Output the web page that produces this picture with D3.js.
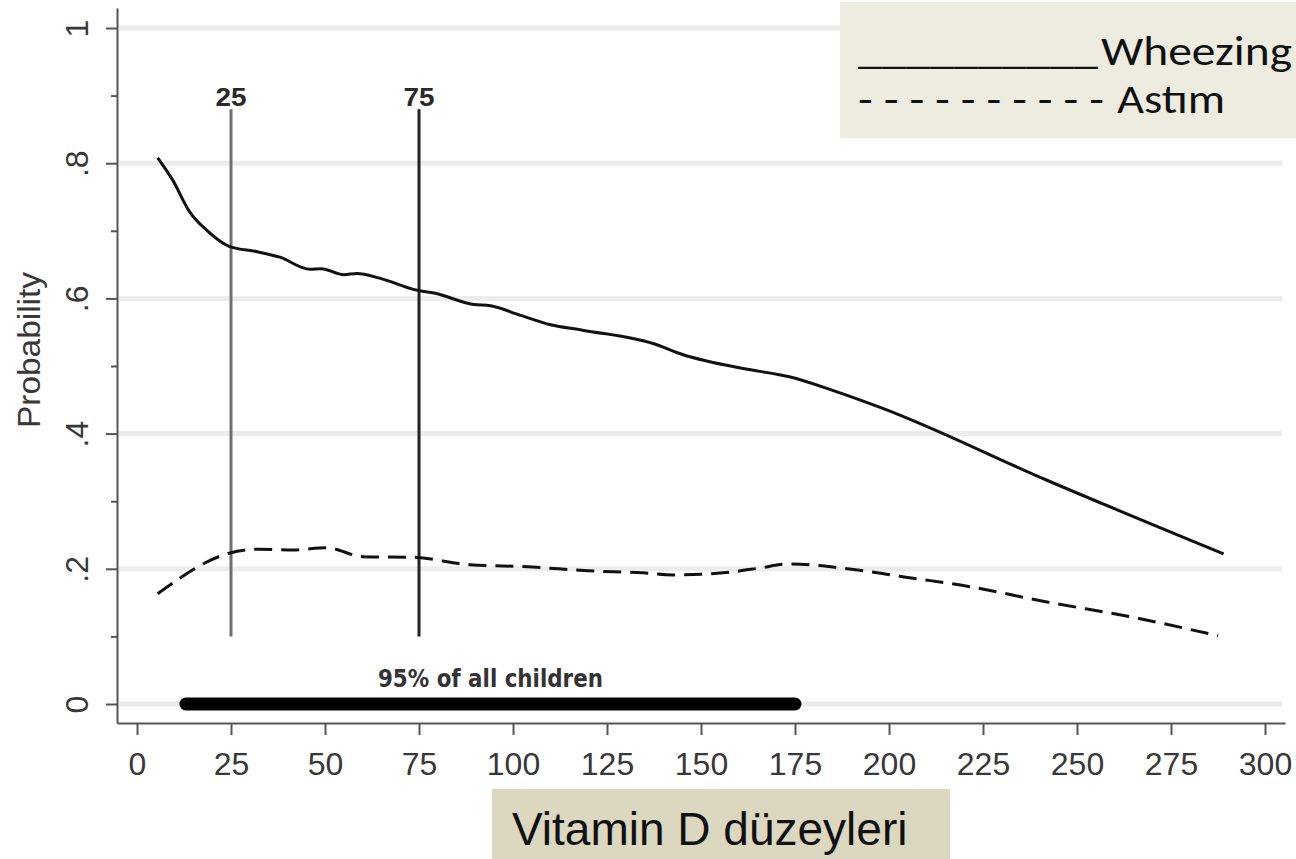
<!DOCTYPE html>
<html lang="tr">
<head>
<meta charset="UTF-8">
<title>Vitamin D - Wheezing / Astım</title>
<script src="https://d3js.org/d3.v7.min.js"></script>
<style>
  body { margin: 0; background: #fff; }
  svg { display: block; }
  .tick text { font-family: "Liberation Sans", Arial, sans-serif; fill: #383838; }
</style>
</head>
<body>
<svg width="1296" height="859"></svg>
<script>
// Wheezing (solid line)
const wheezeX = [5.5, 9.5, 14, 18.5, 24.5, 32, 38, 46, 49, 55, 58.5, 64.5, 74.5, 79, 89.5, 94, 102, 110, 118.5, 139, 143.5, 160.5, 173.5, 185, 198, 242, 289];
const wheezeY = [0.808, 0.775, 0.728, 0.701, 0.677, 0.669, 0.661, 0.643, 0.644, 0.635, 0.637, 0.630, 0.612, 0.608, 0.591, 0.589, 0.575, 0.561, 0.553, 0.530, 0.520, 0.497, 0.484, 0.464, 0.438, 0.331, 0.222];

// Astım (dashed line)
const astimX = [5.5, 24.5, 32.5, 41.5, 50.5, 60, 73.5, 88.5, 104, 120, 134.5, 142.5, 150, 157.5, 165.5, 173, 181, 189, 196, 204, 219, 242, 266, 287.5];
const astimY = [0.163, 0.223, 0.229, 0.228, 0.231, 0.218, 0.217, 0.206, 0.203, 0.197, 0.194, 0.191, 0.192, 0.195, 0.201, 0.207, 0.205, 0.200, 0.195, 0.188, 0.176, 0.151, 0.127, 0.101];

// percentile markers and the 95% range bar
const percentiles = [25, 75];
const percentileSpan = [0.1, 0.88];
const range95 = [13, 175];

const xTicks = [0, 25, 50, 75, 100, 125, 150, 175, 200, 225, 250, 275, 300];
const yTicks = [0, 0.2, 0.4, 0.6, 0.8, 1];
const yTickLabels = ["0", ".2", ".4", ".6", ".8", "1"];
const yMinorTicks = [0.1, 0.3, 0.5, 0.7, 0.9];

const svg = d3.select("svg");

// scales: axis lines run a little past 0 and 300 / 0 and 1
const x = d3.scaleLinear().domain([-5.32, 305.32]).range([117, 1285]);
const y = d3.scaleLinear().domain([-0.0281, 1.0296]).range([723, 8]);

// horizontal grid lines
svg.append("g").selectAll("line")
    .data(yTicks)
    .join("line")
    .attr("x1", 119).attr("x2", 1282)
    .attr("y1", d => y(d)).attr("y2", d => y(d))
    .attr("stroke", "#ececec")
    .attr("stroke-width", 5);

// x axis
const xAxis = svg.append("g")
    .attr("transform", `translate(0,${y.range()[0]})`)
    .call(d3.axisBottom(x).tickValues(xTicks).tickSize(12).tickSizeOuter(0));
xAxis.select(".domain").attr("stroke", "#555").attr("stroke-width", 2);
xAxis.selectAll(".tick line").attr("stroke", "#555").attr("stroke-width", 2);
xAxis.selectAll(".tick text")
    .attr("font-size", 32)
    .attr("y", 52).attr("dy", 0);

// y axis, minor ticks first
const yMinor = svg.append("g")
    .attr("transform", `translate(${x.range()[0]},0)`)
    .call(d3.axisLeft(y).tickValues(yMinorTicks).tickSize(6).tickSizeOuter(0).tickFormat(""));
yMinor.select(".domain").remove();
yMinor.selectAll(".tick line").attr("stroke", "#555").attr("stroke-width", 2);

const yAxis = svg.append("g")
    .attr("transform", `translate(${x.range()[0]},0)`)
    .call(d3.axisLeft(y).tickValues(yTicks).tickSize(11).tickSizeOuter(0)
        .tickFormat((d, i) => yTickLabels[i]));
yAxis.select(".domain").attr("stroke", "#555").attr("stroke-width", 2);
yAxis.selectAll(".tick line").attr("stroke", "#555").attr("stroke-width", 2);
yAxis.selectAll(".tick text")
    .attr("font-size", 32)
    .attr("text-anchor", "middle")
    .attr("transform", "rotate(-90)")
    .attr("x", 0).attr("y", -29).attr("dy", 0);

svg.append("text")
    .attr("transform", "translate(40,350) rotate(-90)")
    .attr("text-anchor", "middle")
    .attr("font-family", "Liberation Sans, Arial, sans-serif")
    .attr("font-size", 32)
    .attr("fill", "#383838")
    .attr("textLength", 156)
    .attr("lengthAdjust", "spacingAndGlyphs")
    .text("Probability");

// percentile lines
const pctColors = ["#707070", "#222"];
svg.append("g").selectAll("line")
    .data(percentiles)
    .join("line")
    .attr("x1", d => x(d)).attr("x2", d => x(d))
    .attr("y1", y(percentileSpan[0])).attr("y2", y(percentileSpan[1]))
    .attr("stroke", (d, i) => pctColors[i])
    .attr("stroke-width", 3);

svg.append("g").selectAll("text")
    .data(percentiles)
    .join("text")
    .attr("x", d => x(d))
    .attr("y", y(percentileSpan[1]) - 3)
    .attr("text-anchor", "middle")
    .attr("font-family", "Liberation Sans, Arial, sans-serif")
    .attr("font-weight", "bold")
    .attr("font-size", 26)
    .attr("fill", "#2a2a2a")
    .attr("textLength", 31)
    .attr("lengthAdjust", "spacingAndGlyphs")
    .text(d => d);

// 95% range bar
svg.append("line")
    .attr("x1", x(range95[0])).attr("x2", x(range95[1]))
    .attr("y1", y(0)).attr("y2", y(0))
    .attr("stroke", "#000")
    .attr("stroke-width", 13)
    .attr("stroke-linecap", "round");

svg.append("text")
    .attr("x", x((range95[0] + range95[1]) / 2))
    .attr("y", 687)
    .attr("text-anchor", "middle")
    .attr("font-family", "DejaVu Sans Condensed, DejaVu Sans, sans-serif")
    .attr("font-weight", "bold")
    .attr("font-size", 24)
    .attr("fill", "#333")
    .attr("textLength", 225)
    .attr("lengthAdjust", "spacingAndGlyphs")
    .text("95% of all children");

// series
const line = d3.line()
    .x(d => x(d[0]))
    .y(d => y(d[1]))
    .curve(d3.curveMonotoneX);

svg.append("path")
    .datum(d3.zip(wheezeX, wheezeY))
    .attr("fill", "none")
    .attr("stroke", "#111")
    .attr("stroke-width", 3)
    .attr("d", line);

svg.append("path")
    .datum(d3.zip(astimX, astimY))
    .attr("fill", "none")
    .attr("stroke", "#111")
    .attr("stroke-width", 3)
    .attr("stroke-dasharray", "18,9")
    .attr("d", line);

// legend box
svg.append("rect")
    .attr("x", 840).attr("y", 2)
    .attr("width", 460).attr("height", 136)
    .attr("fill", "#eeebe1");

const legendFont = "Carlito, Lato, sans-serif";
const legendItems = [
    { text: "__________", x: 858, y: 63, w: 240 },
    { text: "Wheezing", x: 1101, y: 65, w: 191 },
    { text: "- - - - - - - - - -", x: 858, y: 113, w: 246 },
    { text: "Astım", x: 1117, y: 113, w: 108 }
];
svg.append("g").selectAll("text")
    .data(legendItems)
    .join("text")
    .attr("x", d => d.x).attr("y", d => d.y)
    .attr("font-family", legendFont)
    .attr("font-size", 42)
    .attr("fill", "#111")
    .attr("textLength", d => d.w)
    .attr("lengthAdjust", "spacingAndGlyphs")
    .text(d => d.text);

// x-axis title box
svg.append("rect")
    .attr("x", 492).attr("y", 789)
    .attr("width", 458).attr("height", 70)
    .attr("fill", "#dcd7c0");

svg.append("text")
    .attr("x", 512).attr("y", 845)
    .attr("font-family", "Liberation Sans, Arial, sans-serif")
    .attr("font-size", 46)
    .attr("fill", "#111")
    .text("Vitamin D düzeyleri");
</script>
</body>
</html>
